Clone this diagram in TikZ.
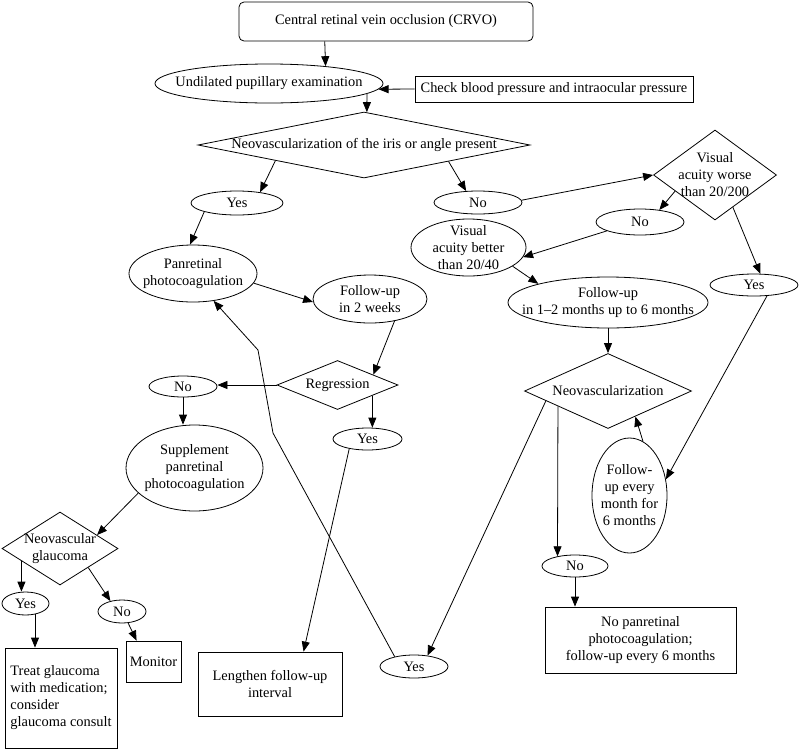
\documentclass[tikz,border=0pt]{standalone}
\usepackage{fontspec}
\setmainfont{Liberation Serif}
\usetikzlibrary{shapes.geometric,arrows.meta}
\begin{document}
\begin{tikzpicture}[x=1pt,y=-1pt,
  every node/.style={font=\fontsize{14.4}{17}\selectfont},
  every label/.style={align=center, inner sep=0pt},
  base/.style={draw, line width=0.8pt, inner sep=0pt},
  ell/.style={base, ellipse},
  dia/.style={base, diamond},
  box/.style={base, rectangle, inner sep=2pt, align=center},
  arr/.style={line width=0.8pt, -{Triangle[length=10pt,width=8pt]}}
]
\useasboundingbox[fill=white] (0,0) rectangle (800,750);

% nodes
\node[box, rounded corners=5pt, minimum width=294, minimum height=39] (crvo) at (386,21.5) {Central retinal vein occlusion (CRVO)};
\node[ell, minimum width=228, minimum height=39, label=center:{Undilated pupillary examination}] (undil) at (269,83.5) {};
\node[box, minimum width=278, minimum height=26] (check) at (554,89) {Check blood pressure and intraocular pressure};
\node[dia, minimum width=332, minimum height=66, label=center:{Neovascularization of the iris or angle present}] (neo) at (364,145) {};
\node[ell, minimum width=92, minimum height=24, label=center:{Yes}] (yes1) at (237,203) {};
\node[ell, minimum width=88, minimum height=23, label=center:{No}] (no1) at (478,202.5) {};
\node[dia, minimum width=123, minimum height=90, label=center:{Visual\\acuity worse\\than 20/200}] (vis) at (715,175) {};
\node[ell, minimum width=88, minimum height=26, label=center:{No}] (no2) at (640,222) {};
\node[ell, minimum width=115, minimum height=57, label=center:{Visual\\acuity better\\than 20/40}] (visb) at (468.5,247.5) {};
\node[ell, minimum width=200, minimum height=51, label=center:{Follow-up\\in 1–2 months up to 6 months}] (fu12) at (608,302.5) {};
\node[ell, minimum width=88, minimum height=22, label=center:{Yes}] (yes2) at (754,285) {};
\node[ell, minimum width=128, minimum height=57, label=center:{Panretinal\\photocoagulation}] (pan) at (193,273.5) {};
\node[ell, minimum width=114, minimum height=48, label=center:{Follow-up\\in 2 weeks}] (fu2w) at (370,299) {};
\node[dia, minimum width=121, minimum height=49, label=center:{Regression}] (reg) at (337.5,385) {};
\node[ell, minimum width=68, minimum height=21, label=center:{No}] (no4) at (183,386.5) {};
\node[ell, minimum width=137, minimum height=86, label=center:{Supplement\\panretinal\\photocoagulation}] (supp) at (194.5,468) {};
\node[ell, minimum width=69, minimum height=22, label=center:{Yes}] (yes4) at (367.5,439) {};
\node[dia, minimum width=167, minimum height=75, label=center:{Neovascularization}] (nv) at (608,391) {};
\node[ell, minimum width=75, minimum height=115, label=center:{Follow-\\up every\\month for\\6 months}] (fuem) at (629.5,495.5) {};
\node[ell, minimum width=66, minimum height=22, label=center:{No}] (no3) at (575,566) {};
\node[box, minimum width=191, minimum height=66] (nopan) at (640.5,640) {No panretinal\\photocoagulation;\\follow-up every 6 months};
\node[ell, minimum width=68, minimum height=23, label=center:{Yes}] (yes3) at (414,666.5) {};
\node[box, minimum width=144, minimum height=64] (len) at (270,684) {Lengthen follow-up\\interval};
\node[dia, minimum width=116, minimum height=73, label=center:{Neovascular\\glaucoma}] (ng) at (60,548.5) {};
\node[ell, minimum width=47, minimum height=23, label=center:{Yes}] (yes5) at (25.5,603.5) {};
\node[ell, minimum width=48, minimum height=23, label=center:{No}] (no5) at (122,611.5) {};
\node[box, align=left, minimum width=112, minimum height=100] (treat) at (61,698) {Treat glaucoma\\with medication;\\consider\\glaucoma consult};
\node[box, minimum width=55, minimum height=41] (mon) at (153.5,661.5) {Monitor};

\coordinate (b1) at (273,433);
\coordinate (b2) at (258,350);

% connectors
\draw[arr] (crvo.-162) -- (undil.17);
\draw[arr] (check.west) -- (undil.-3);
\draw[arr] (undil.-6) -- (neo.85);
\draw[arr] (neo.-170) -- (yes1.25);
\draw[arr] (neo.-11) -- (no1.136);
\draw[arr] (yes1.-165) -- (pan.96);
\draw[arr] (pan.-9) -- (fu2w.-177);
\draw[arr] (fu2w.-42) -- (reg.16);
\draw[arr] (reg.west) -- (reg.west -| no4.east);
\draw[arr] (no4.south) -- (no4.south |- supp.north);
\draw[arr] (reg.-17) -- (reg.-17 |- yes4.north);
\draw[arr] (yes4.-152) -- (len.44);
\draw[arr] (supp.-156) -- (ng.20);
\draw[arr] (ng.-162) -- (ng.-162 |- yes5.north);
\draw[arr] (yes5.-49) -- (yes5.-49 |- treat.north);
\draw[arr] (ng.-34) -- (no5.138);
\draw[arr] (no5.-62) -- (mon.129);
\draw[arr] (no1.3) -- (vis.west);
\draw[arr] (vis.-158) -- (no2.32);
\draw[arr] (no2.-165) -- (visb.-10);
\draw[arr] (visb.-23) -- (fu12.165);
\draw[arr] (vis.-61) -- (yes2.61);
\draw[arr] (yes2.-40) -- (fuem.24);
\draw[arr] (fu12.south) -- (nv.north);
\draw[arr] (fuem.76) -- (nv.-43);
\draw[arr] (nv.-163) -- (no3.151);
\draw[arr] (no3.south) -- (no3.south |- nopan.north);
\draw[arr] (nv.-171) -- (yes3.39);
\draw[arr] (yes3.153) -- (b1) -- (b2) -- (pan.-53);
\end{tikzpicture}
\end{document}
